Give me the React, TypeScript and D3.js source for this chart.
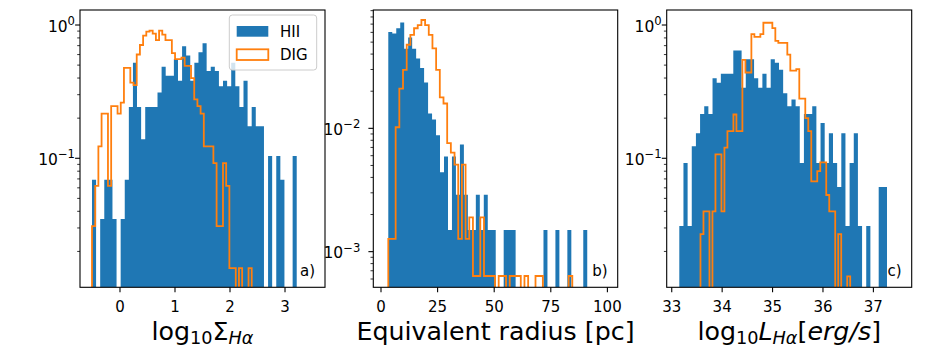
import React from 'react';
import * as d3 from 'd3';

const FONT = "'DejaVu Sans', sans-serif";
const BLUE = '#1f77b4';
const ORANGE = '#ff7f0e';

// a) log10 Sigma_Halpha, density histograms, 50 bins each
const hiiSigma = [0.069, 0, 0.035, 0.069, 0.069, 0.035, 0, 0.035, 0.069, 0.243,
  0.521, 0.243, 0.139, 0.243, 0.243, 0.243, 0.312, 0.486, 0.416, 0.416,
  0.555, 0.382, 0.694, 0.590, 0.382, 0.521, 0.625, 0.729, 0.451, 0.486,
  0.451, 0.347, 0.382, 0.347, 0.521, 0.347, 0.243, 0.382, 0.174, 0.243,
  0.174, 0.174, 0, 0.104, 0, 0.104, 0.069, 0, 0, 0.104];
const digSigma = [0.031, 0.062, 0.123, 0.216, 0.216, 0.062, 0.246, 0.246, 0.216, 0.262,
  0.477, 0.477, 0.370, 0.354, 0.601, 0.708, 0.832, 0.893, 0.909, 0.862,
  0.770, 0.909, 0.847, 0.770, 0.770, 0.616, 0.554, 0.554, 0.570, 0.493,
  0.493, 0.400, 0.277, 0.246, 0.216, 0.123, 0.123, 0.123, 0.092, 0.031,
  0.031, 0.092, 0.062, 0.015, 0.015, 0, 0.015, 0, 0, 0.015];
const hiiSigmaRange = [-0.509, 3.213];
const digSigmaRange = [-0.509, 2.395];
const sigmaTicks = [0, 1, 2, 3];

// b) equivalent radius [pc]
const hiiRadius = [0.0603, 0.0588, 0.0647, 0.0720, 0.0441, 0.0544, 0.0441, 0.0368, 0.0309, 0.0235,
  0.0132, 0.0118, 0.0088, 0.0044, 0.0059, 0.0015, 0.0059, 0.0029, 0.0074, 0.0029,
  0.0015, 0.0015, 0.0029, 0.0015, 0.0029, 0.0015, 0.0015, 0, 0, 0.0015,
  0.0015, 0.0015, 0, 0, 0, 0, 0, 0, 0, 0.0015,
  0, 0, 0.0015, 0, 0, 0.0015, 0, 0, 0, 0.0015];
const digRadius = [0.00127, 0.00127, 0.0102, 0.0210, 0.0298, 0.0476, 0.0572, 0.0648, 0.0686, 0.0756,
  0.0686, 0.0572, 0.0445, 0.0298, 0.0178, 0.0159, 0.0076, 0.00635, 0.00508, 0.00127,
  0.00508, 0.00127, 0.0019, 0.000635, 0.000635, 0.0019, 0.000635, 0.000635, 0.000635, 0,
  0.000635, 0.000635, 0, 0.000635, 0.000635, 0.000635, 0, 0.000635, 0, 0,
  0.000635, 0.000635, 0, 0, 0, 0, 0, 0, 0, 0.000635];
const hiiRadiusRange = [3.22, 91.1];
const digRadiusRange = [3.22, 84.5];
const radiusTicks = [0, 25, 50, 75, 100];

// c) log10 L_Halpha [erg/s]
const hiiLum = [0.031, 0.092, 0.031, 0.123, 0.154, 0.215, 0.246, 0.215, 0.399, 0.368,
  0.430, 0.430, 0.430, 0.645, 0.645, 0.338, 0.553, 0.553, 0.399, 0.338,
  0.430, 0.338, 0.553, 0.522, 0.461, 0.307, 0.246, 0.276, 0.246, 0.092,
  0.215, 0.215, 0.246, 0.092, 0.184, 0.092, 0.154, 0.092, 0.061, 0.154,
  0.031, 0.092, 0.154, 0.031, 0, 0.031, 0, 0, 0.061, 0.061];
const digLum = [0.027, 0.040, 0.040, 0, 0.040, 0.107, 0.107, 0.040, 0.120, 0.160,
  0.160, 0.213, 0.160, 0.160, 0.547, 0.440, 0.440, 0.854, 0.814, 0.814,
  0.854, 1.04, 1.04, 1.04, 0.947, 0.760, 0.734, 0.734, 0.734, 0.600,
  0.454, 0.454, 0.467, 0.280, 0.280, 0.200, 0.160, 0.067, 0.067, 0.080,
  0.093, 0.093, 0.053, 0.040, 0.040, 0, 0.027, 0, 0, 0.013];
const hiiLumRange = [33.15, 37.27];
const digLumRange = [33.57, 36.54];
const lumTicks = [33, 34, 35, 36, 37];

const TOP = 10;
const BOTTOM = 287.3;
const TICK_FS = 15;
const YTICK_FS = 15.5;
const LABEL_FS = 25.3;

const edgesOf = (range: number[], n: number) => {
  const s = d3.scaleLinear().domain([0, n]).range(range);
  return d3.range(n + 1).map(s);
};

function barsPath(vals: number[], range: number[], x: any, y: any) {
  const e = edgesOf(range, vals.length);
  let d = '';
  let open = false;
  vals.forEach((v, k) => {
    const x0 = x(e[k]), x1 = x(e[k + 1]);
    if (v > 0) {
      if (!open) { d += `M${x0},${BOTTOM}`; open = true; }
      d += `L${x0},${y(v)}L${x1},${y(v)}`;
    } else if (open) {
      d += `L${x0},${BOTTOM}Z`;
      open = false;
    }
  });
  if (open) d += `L${x(e[vals.length])},${BOTTOM}Z`;
  return d;
}

function stepPath(vals: number[], range: number[], x: any, y: any) {
  const e = edgesOf(range, vals.length);
  const floor = BOTTOM + 3;
  let d = `M${x(e[0])},${floor}`;
  vals.forEach((v, k) => {
    const yy = v > 0 ? y(v) : floor;
    d += `L${x(e[k])},${yy}L${x(e[k + 1])},${yy}`;
  });
  d += `L${x(e[vals.length])},${floor}`;
  return d;
}

function Pow({ x, y, exp }: { x: number; y: number; exp: number }) {
  const s = exp < 0 ? `\u2212${-exp}` : `${exp}`;
  return (
    <text x={x} y={y} textAnchor="end" fontSize={YTICK_FS} fontFamily={FONT}>
      10<tspan fontSize={YTICK_FS * 0.75} dy={-6.5}>{s}</tspan>
    </text>
  );
}

type PanelProps = {
  id: string;
  left: number;
  right: number;
  xDomain: number[];
  yDomain: number[];
  xTicks: number[];
  labelGap: number;
  hii: number[];
  hiiRange: number[];
  dig: number[];
  digRange: number[];
  tag: string;
  label: React.ReactNode;
  legend?: boolean;
};

function Panel(p: PanelProps) {
  const x = d3.scaleLinear().domain(p.xDomain).range([p.left, p.right]);
  const y = d3.scaleLog().domain(p.yDomain).range([BOTTOM, TOP]);
  const lo = Math.floor(Math.log10(p.yDomain[0]));
  const hi = Math.ceil(Math.log10(p.yDomain[1]));
  const majors: number[] = [];
  const minors: number[] = [];
  for (let e = lo; e <= hi; e++) {
    const v = Math.pow(10, e);
    if (v >= p.yDomain[0] && v <= p.yDomain[1]) majors.push(e);
    for (let m = 2; m <= 9; m++) {
      const w = m * v;
      if (w >= p.yDomain[0] && w <= p.yDomain[1]) minors.push(w);
    }
  }
  const w = p.right - p.left;
  return (
    <g>
      <clipPath id={`clip-${p.id}`}>
        <rect x={p.left} y={TOP} width={w} height={BOTTOM - TOP} />
      </clipPath>
      <g clipPath={`url(#clip-${p.id})`}>
        <path d={barsPath(p.hii, p.hiiRange, x, y)} fill={BLUE} />
        <path d={stepPath(p.dig, p.digRange, x, y)} fill="none" stroke={ORANGE} strokeWidth={1.8} strokeLinejoin="miter" />
      </g>
      <rect x={p.left} y={TOP} width={w} height={BOTTOM - TOP} fill="none" stroke="#000" strokeWidth={1.1} />
      {p.xTicks.map(t => (
        <g key={t}>
          <line x1={x(t)} x2={x(t)} y1={BOTTOM} y2={BOTTOM + 4.9} stroke="#000" strokeWidth={1.1} />
          <text x={x(t)} y={BOTTOM + 24.8} textAnchor="middle" fontSize={TICK_FS} fontFamily={FONT}>{t}</text>
        </g>
      ))}
      {minors.map(v => (
        <line key={v} x1={p.left - 2.8} x2={p.left} y1={y(v)} y2={y(v)} stroke="#000" strokeWidth={0.8} />
      ))}
      {majors.map(e => (
        <g key={e}>
          <line x1={p.left - 4.9} x2={p.left} y1={y(Math.pow(10, e))} y2={y(Math.pow(10, e))} stroke="#000" strokeWidth={1.1} />
          <Pow x={p.left - p.labelGap} y={y(Math.pow(10, e)) + 6.5} exp={e} />
        </g>
      ))}
      <text x={p.right - 10} y={BOTTOM - 11} textAnchor="end" fontSize={TICK_FS} fontFamily={FONT}>{p.tag}</text>
      <text x={(p.left + p.right) / 2} y={339.5} textAnchor="middle" fontSize={LABEL_FS} fontFamily={FONT}>{p.label}</text>
      {p.legend && (
        <g fontFamily={FONT} fontSize={TICK_FS}>
          <rect x={p.right - 95.7} y={TOP + 5} width={87.4} height={55} rx={3} fill="#fff" fillOpacity={0.8} stroke="#ccc" strokeWidth={1} />
          <rect x={p.right - 88.3} y={TOP + 16} width={31.6} height={10.7} fill={BLUE} />
          <rect x={p.right - 88.3} y={TOP + 39.3} width={31.6} height={10.7} fill="none" stroke={ORANGE} strokeWidth={1.8} />
          <text x={p.right - 45} y={TOP + 26.8}>HII</text>
          <text x={p.right - 45} y={TOP + 50.3}>DIG</text>
        </g>
      )}
    </g>
  );
}

export default function App() {
  const sub = { fontSize: LABEL_FS * 0.7 };
  return (
    <svg width={926} height={348} style={{ position: 'absolute', left: 0, top: 0, background: '#fff' }}>
      <Panel id="a" left={80} right={325} xDomain={[-0.727, 3.727]} yDomain={[0.01076, 1.296]} xTicks={sigmaTicks} labelGap={5}
        hii={hiiSigma} hiiRange={hiiSigmaRange} dig={digSigma} digRange={digSigmaRange} tag="a)" legend
        label={<>log<tspan {...sub} dy={4.5}>10</tspan><tspan dy={-4.5}>Σ</tspan><tspan {...sub} dy={4.5} fontStyle="italic">Hα</tspan></>} />
      <Panel id="b" left={373.3} right={617.7} xDomain={[-3.4, 104.55]} yDomain={[0.000514, 0.0911]} xTicks={radiusTicks} labelGap={13}
        hii={hiiRadius} hiiRange={hiiRadiusRange} dig={digRadius} digRange={digRadiusRange} tag="b)"
        label="Equivalent radius [pc]" />
      <Panel id="c" left={666.7} right={911.7} xDomain={[32.9, 37.76]} yDomain={[0.01076, 1.296]} xTicks={lumTicks} labelGap={5}
        hii={hiiLum} hiiRange={hiiLumRange} dig={digLum} digRange={digLumRange} tag="c)"
        label={<>log<tspan {...sub} dy={4.5}>10</tspan><tspan dy={-4.5} fontStyle="italic">L</tspan><tspan {...sub} dy={4.5} fontStyle="italic">Hα</tspan><tspan dy={-4.5}>[</tspan><tspan fontStyle="italic">erg/s</tspan>]</>} />
    </svg>
  );
}
